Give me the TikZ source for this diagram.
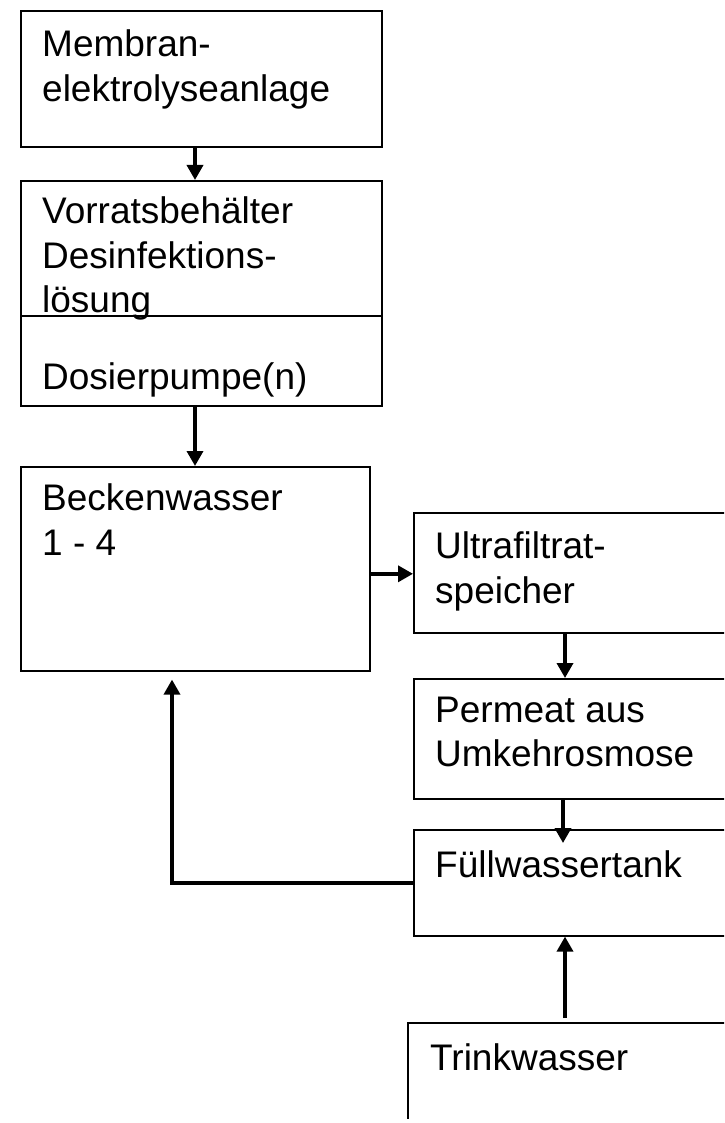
\documentclass[tikz,border=0pt]{standalone}
\usepackage{fontspec}
\setmainfont{Liberation Sans}
\usetikzlibrary{arrows.meta}
\begin{document}
\begin{tikzpicture}[x=1pt,y=-1pt,
  box/.style={draw, line width=1.6pt, inner sep=0pt, anchor=north west},
  txt/.style={anchor=north west, inner sep=0pt, align=left,
    font=\fontsize{37}{44.5}\selectfont, execute at begin node=\strut},
  flow/.style={line width=3.5pt, -{Triangle[length=15pt,width=16pt]}},
  divider/.style={line width=2.6pt}]
\useasboundingbox (0,0) rectangle (724,1123);
\begin{scope}
\clip (0,0) rectangle (724,1118);
% boxes
\node[box, minimum width=361pt, minimum height=136pt] (membran) at (20,10) {};
\node[box, minimum width=361pt, minimum height=225pt] (vorrat) at (20,180) {};
\node[box, minimum width=349pt, minimum height=204pt] (becken) at (20,466) {};
\node[box, minimum width=330pt, minimum height=120pt] (ultra) at (413,512) {};
\node[box, minimum width=330pt, minimum height=120pt] (permeat) at (413,678) {};
\node[box, minimum width=330pt, minimum height=106pt] (fuell) at (413,829) {};
\node[box, minimum width=340pt, minimum height=130pt] (trink) at (407,1022) {};
% texts
\node[txt] (tmembran) at ([shift={(22,19.6)}]membran.north west) {Membran-\\elektrolyseanlage};
\node[txt] (tvorrat) at ([shift={(22,16.6)}]vorrat.north west) {Vorratsbehälter\\Desinfektions-\\lösung};
\node[txt] (tpumpe) at ([shift={(22,-48.4)}]vorrat.south west) {Dosierpumpe(n)};
\node[txt] (tbecken) at ([shift={(22,17.6)}]becken.north west) {Beckenwasser\\1 - 4};
\node[txt] (tultra) at ([shift={(22,19.6)}]ultra.north west) {Ultrafiltrat-\\speicher};
\node[txt] (tpermeat) at ([shift={(22,18.6)}]permeat.north west) {Permeat aus\\Umkehrosmose};
\node[txt] (tfuell) at ([shift={(22,17.6)}]fuell.north west) {Füllwassertank};
\node[txt] (ttrink) at ([shift={(23,17.6)}]trink.north west) {Trinkwasser};
% divider between storage tank and dosing pump
\coordinate (div) at (20,316);
\draw[divider] (vorrat.west |- div) -- (vorrat.east |- div);
% connectors
\coordinate (colA) at (195,0);
\coordinate (colB) at (565,0);
\coordinate (colC) at (563,0);
\coordinate (corner) at (172,883);
\draw[flow] (membran.south -| colA) -- (vorrat.north -| colA);
\draw[flow] (vorrat.south -| colA) -- (becken.north -| colA);
\draw[flow] ([yshift=-5pt]becken.east) -- ([yshift=-5pt]becken.east -| ultra.west);
\draw[flow] (ultra.south -| colB) -- (permeat.north -| colB);
\draw[flow] (permeat.south -| colC) -- ([yshift=-14pt]fuell.north -| colC);
\draw[flow] ([yshift=4pt]trink.north -| colB) -- (fuell.south -| colB);
\draw[flow] (fuell.west |- corner) -- (corner) -- ([yshift=-8pt]becken.south -| corner);
\end{scope}
\end{tikzpicture}
\end{document}
